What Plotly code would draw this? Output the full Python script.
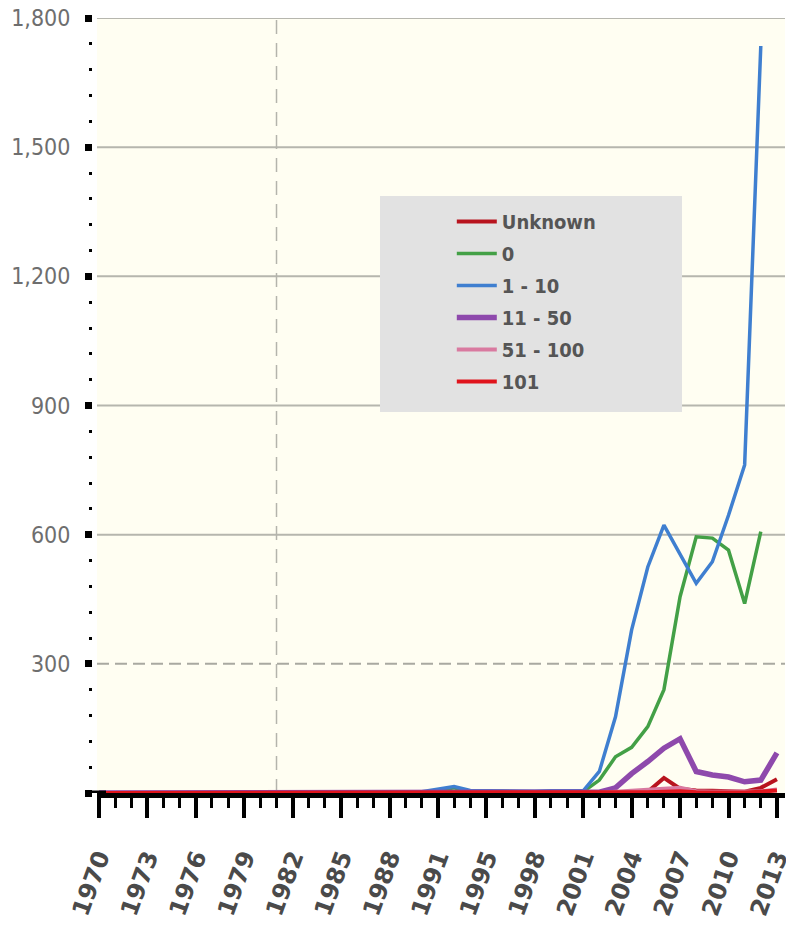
import plotly.graph_objects as go

# ---- data -------------------------------------------------------------
years = [y for y in range(1970, 2014) if y != 1993]

unknown = [0]*34 + [3, 35, 10, 6, 5, 4, 3, 12, 32]
zero = ([0]*14 + [0, 0, 0, 1, 1, 1, 2, 5, 12, 3, 4, 4, 3, 3, 4, 3, 3,
        30, 84, 106, 154, 240, 456, 595, 592, 564, 440, 607])
one_ten = ([0]*14 + [0, 0, 1, 1, 2, 2, 3, 8, 15, 6, 5, 6, 5, 4, 5, 6, 5,
           50, 177, 379, 525, 622, 553, 487, 537, 645, 762, 1735])
eleven_fifty = ([0]*21 + [1, 2, 1, 1, 1, 1, 1, 1, 1, 1, 2,
                12, 45, 73, 104, 126, 50, 42, 37, 26, 30, 93])
fiftyone_hundred = [0]*32 + [3, 6, 8, 10, 12, 4, 3, 3, 2, 4, 8]
over_hundred = [0]*33 + [1, 2, 3, 4, 2, 1, 1, 1, 3, 6]

series_names = ["Unknown", "0", "1 - 10", "11 - 50", "51 - 100", "101"]
series_values = [unknown, zero, one_ten, eleven_fifty, fiftyone_hundred, over_hundred]
series_colors = ["#B8141E", "#43A046", "#3F7FD0", "#8E49AC", "#D97AA0", "#E0141C"]
series_widths = [4, 3.5, 3.5, 5.5, 4, 4]

ytick_vals = [0, 300, 600, 900, 1200, 1500, 1800]
ytick_text = ["", "300", "600", "900", "1,200", "1,500", "1,800"]
solid_grid = [600, 900, 1200, 1500, 1800]
dashed_grid = [300]
marker_year = 1981

xidx = list(range(len(years)))
xtick_vals = xidx[::3]
xtick_text = [str(years[i]) for i in xtick_vals]

COND = "DejaVu Sans Condensed, DejaVu Sans, Arial"

# ---- figure -----------------------------------------------------------
fig = go.Figure()
for name, vals, col, w in zip(series_names, series_values, series_colors, series_widths):
    fig.add_trace(go.Scatter(x=xidx, y=vals, mode="lines", name=name, legendgroup=name,
                             line=dict(color=col, width=w)))

for v in solid_grid:
    fig.add_hline(y=v, line=dict(color="#B6B6AE", width=2), layer="below")
for v in dashed_grid:
    fig.add_hline(y=v, line=dict(color="#A9A9A1", width=2, dash="12px,6px"), layer="below")
fig.add_vline(x=years.index(marker_year), line=dict(color="#B4B4AC", width=1.5, dash="14px,9px"),
              layer="below")

# legend box
fig.add_shape(type="rect", xref="paper", yref="paper",
              x0=0.4214, x1=0.8529, y0=0.4916, y1=0.7703,
              fillcolor="#E2E2E2", line=dict(width=0), layer="above")
# extend x baseline to the left
fig.add_shape(type="line", xref="paper", yref="y", x0=0, x1=0.03, y0=0, y1=0,
              line=dict(color="black", width=5), layer="above")

fig.update_layout(
    width=786, height=921,
    margin=dict(l=77, r=9, t=10, b=136, autoexpand=False),
    paper_bgcolor="white", plot_bgcolor="#FFFEF2",
    showlegend=True,
    legend=dict(x=0.524, y=0.7626, xanchor="left", yanchor="top",
                bgcolor="rgba(0,0,0,0)", itemwidth=40, tracegroupgap=3,
                font=dict(family=COND, size=20, color="#555555", weight="bold")),
    xaxis=dict(domain=[12/700, 1], range=[-0.12, 42.5], automargin=False,
               tickmode="array", tickvals=xtick_vals, ticktext=xtick_text,
               ticks="outside", ticklen=20, tickwidth=4, tickcolor="black",
               minor=dict(ticks="outside", tickmode="linear", tick0=0, dtick=1,
                          ticklen=10, tickwidth=3, tickcolor="black"),
               showline=True, linewidth=5, linecolor="black",
               showgrid=False, zeroline=False, tickangle=-70,
               ticklabelstandoff=16, ticklabeloverflow="allow",
               tickfont=dict(family="DejaVu Sans", size=24, color="#4A4A4A", weight="bold")),
    yaxis=dict(anchor="free", position=7/700, range=[0, 1800], automargin=False,
               tickmode="array", tickvals=ytick_vals, ticktext=ytick_text,
               ticks="outside", ticklen=7, tickwidth=7, tickcolor="black",
               minor=dict(ticks="outside", tickmode="linear", tick0=0, dtick=60,
                          ticklen=3, tickwidth=3, tickcolor="black"),
               showline=False, showgrid=False, zeroline=False,
               ticklabelstandoff=10, ticklabeloverflow="allow",
               tickfont=dict(family=COND, size=23, color="#6E6E6E")),
)

fig.write_html("out.html")
